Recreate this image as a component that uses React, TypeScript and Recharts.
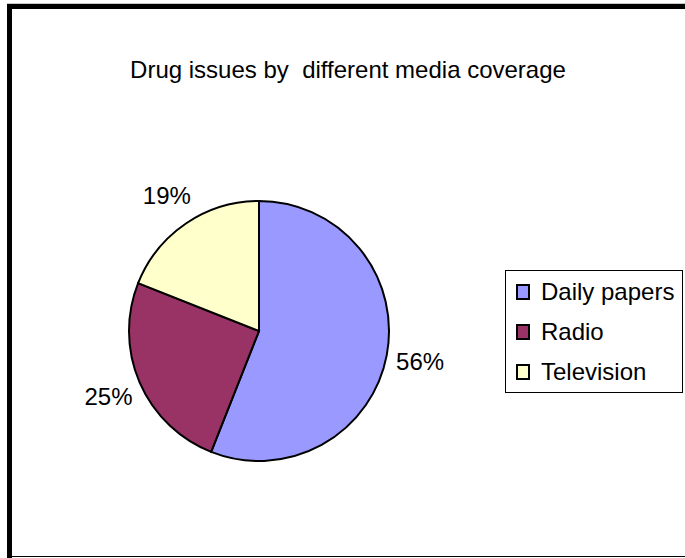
import React from 'react';
import { PieChart, Pie, Cell, Legend } from 'recharts';

const categories = ['Daily papers', 'Radio', 'Television'];
const shares = [56, 25, 19];
const colors = ['#9999FF', '#993366', '#FFFFCC'];

const chartData = categories.map((name, i) => ({ name, value: shares[i] }));

const FONT = '"Liberation Sans", Arial, sans-serif';
const RAD = Math.PI / 180;

// Percent labels sit outside the pie, centred on the slice's mid angle
const renderLabel = (props: any) => {
  const { cx, cy, midAngle, outerRadius, value } = props;
  const r = outerRadius + 34;
  const x = cx + r * Math.cos(-midAngle * RAD);
  const y = cy + r * Math.sin(-midAngle * RAD);
  return (
    <text
      x={x}
      y={y}
      fill="#000"
      fontSize={24}
      fontFamily={FONT}
      textAnchor="middle"
      dominantBaseline="central"
    >
      {`${value}%`}
    </text>
  );
};

const renderLegend = () => (
  <div
    style={{
      width: 178,
      height: 123,
      border: '1px solid #000',
      boxSizing: 'border-box',
      paddingTop: 1,
      paddingLeft: 10,
      fontFamily: FONT,
      fontSize: 24,
    }}
  >
    {categories.map((name, i) => (
      <div key={name} style={{ display: 'flex', alignItems: 'center', height: 40 }}>
        <span
          style={{
            display: 'inline-block',
            width: 14,
            height: 16,
            background: colors[i],
            border: '2px solid #000',
            boxSizing: 'border-box',
            marginRight: 11,
          }}
        />
        <span>{name}</span>
      </div>
    ))}
  </div>
);

export default function App() {
  return (
    <div style={{ position: 'absolute', left: 0, top: 0, width: 685, height: 558, background: '#fff' }}>
      {/* frame */}
      <div style={{ position: 'absolute', left: 7, top: 3, width: 678, height: 1, background: '#c8c8c8' }} />
      <div style={{ position: 'absolute', left: 7, top: 4, width: 678, height: 5, background: '#000' }} />
      <div style={{ position: 'absolute', left: 7, top: 4, width: 5, height: 554, background: '#000' }} />
      <div style={{ position: 'absolute', left: 7, top: 556, width: 678, height: 1, background: '#000' }} />
      <div
        style={{
          position: 'absolute',
          left: 0,
          width: 685,
          top: 56,
          textAlign: 'center',
          fontFamily: FONT,
          fontSize: 24,
          whiteSpace: 'pre',
          paddingLeft: 11,
          boxSizing: 'border-box',
        }}
      >
        {'Drug issues by  different media coverage'}
      </div>
      <div style={{ position: 'absolute', left: 0, top: 0 }}>
        <PieChart width={685} height={558}>
          <Pie
            data={chartData}
            dataKey="value"
            nameKey="name"
            cx={254}
            cy={326}
            outerRadius={130}
            startAngle={90}
            endAngle={-270}
            stroke="#000"
            strokeWidth={2}
            label={renderLabel}
            labelLine={false}
            isAnimationActive={false}
          >
            {chartData.map((d, i) => (
              <Cell key={d.name} fill={colors[i]} />
            ))}
          </Pie>
          <Legend
            content={renderLegend}
            wrapperStyle={{ position: 'absolute', left: 505, top: 270, width: 178, height: 123 }}
          />
        </PieChart>
      </div>
    </div>
  );
}
